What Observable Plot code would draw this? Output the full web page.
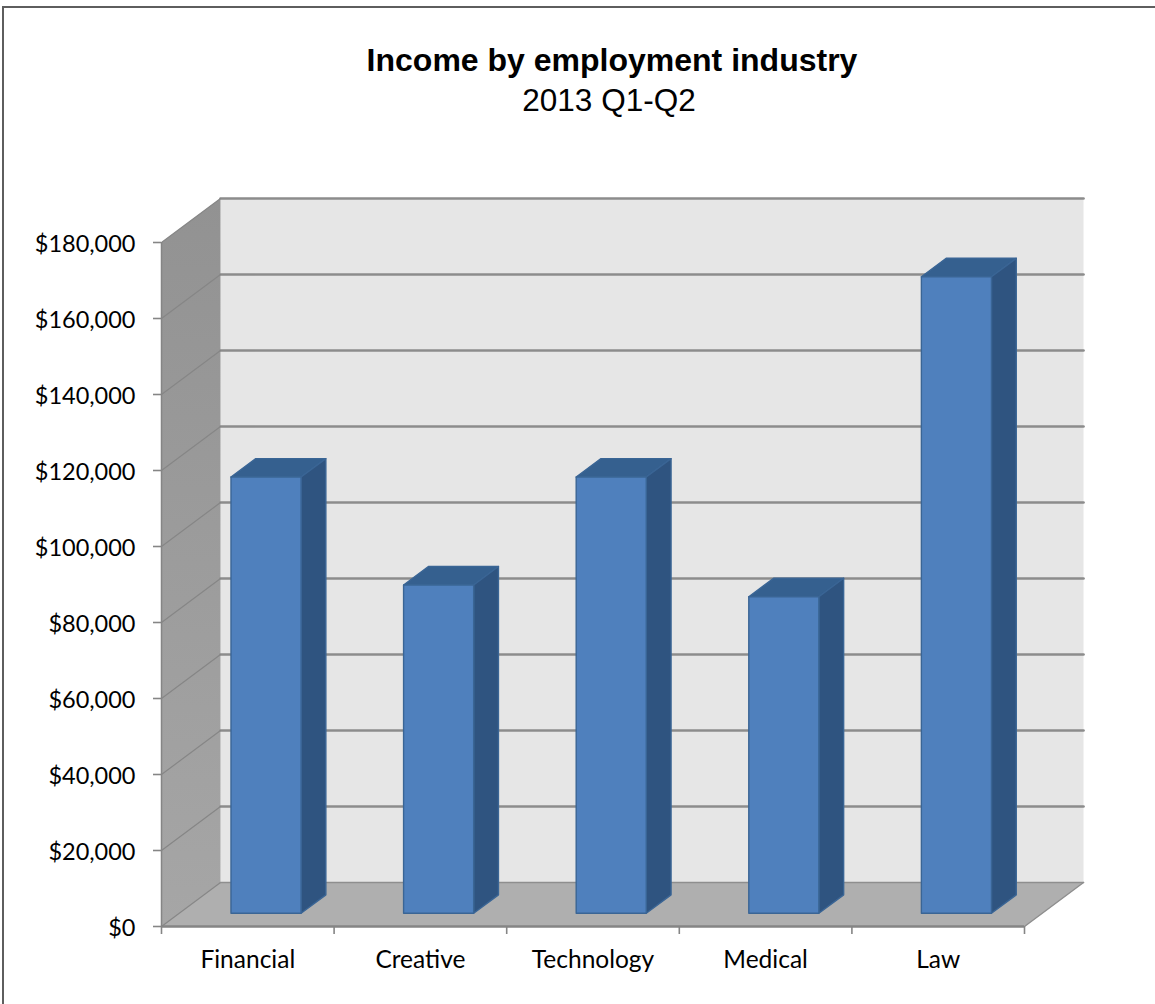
<!DOCTYPE html>
<html>
<head>
<meta charset="utf-8">
<script src="https://cdn.jsdelivr.net/npm/d3@7"></script>
<script src="https://cdn.jsdelivr.net/npm/@observablehq/plot@0.6"></script>
<style>
  html, body { margin: 0; padding: 0; background: #fff; }
  #root { position: relative; width: 1155px; height: 1004px; overflow: hidden; }
  #frame { position: absolute; left: 2px; top: 6px; width: 1153px; height: 998px; box-sizing: border-box;
           border-top: 2px solid #5e5e5e; border-left: 2px solid #5e5e5e; }
  #head { position: absolute; left: 0; top: 0; width: 1224px; height: 170px; text-align: center;
          font-family: "Liberation Sans", Arial, sans-serif; color: #000; }
  #head .t { position: absolute; left: 0; width: 100%; top: 42px; font-size: 32px; font-weight: 700; line-height: 36px; }
  #head .s { position: absolute; left: -3px; width: 100%; top: 82px; font-size: 31.5px; line-height: 36px; }
  #chart { position: absolute; left: 0; top: 170px; }
  #chart svg { display: block; }
</style>
</head>
<body>
<div id="root">
  <div id="frame"></div>
  <div id="head">
    <div class="t">Income by employment industry</div>
    <div class="s">2013 Q1-Q2</div>
  </div>
  <div id="chart"></div>
</div>
<script>
// Chart values
const categories = ["Financial", "Creative", "Technology", "Medical", "Law"];
const incomes = [114800, 86400, 114800, 83300, 167500];
const yTicks = [0, 20000, 40000, 60000, 80000, 100000, 120000, 140000, 160000, 180000];

// Oblique projection of the box: one unit of depth shifts right and up, in data units
const depthX = 0.342;
const depthY = 11580;
const project = (slot, value, z) => ({x: slot + z * depthX, y: value + z * depthY});

// Bar footprint inside a category slot
const barLeft = 0.30, barRight = 0.706, zFront = 0.3, zBack = 0.72;
const yMax = yTicks[yTicks.length - 1];
const slots = categories.length;

// Named polygon faces, each a list of projected corners
const poly = (face, fill, corners) => corners.map((c) => ({face, fill, ...c}));

const wallFaces = [
  ...poly("back", "#e6e6e6", [project(0, 0, 1), project(slots, 0, 1), project(slots, yMax, 1), project(0, yMax, 1)]),
  ...poly("side", "url(#sideWall)", [project(0, 0, 0), project(0, 0, 1), project(0, yMax, 1), project(0, yMax, 0)]),
  ...poly("floor", "#afafaf", [project(0, 0, 0), project(slots, 0, 0), project(slots, 0, 1), project(0, 0, 1)])
];

const barFaces = incomes.flatMap((v, i) => {
  const l = i + barLeft, r = i + barRight;
  return [
    ...poly(`top${i}`, "#35608f", [project(l, v, zFront), project(r, v, zFront), project(r, v, zBack), project(l, v, zBack)]),
    ...poly(`side${i}`, "#2f5480", [project(r, 0, zFront), project(r, 0, zBack), project(r, v, zBack), project(r, v, zFront)]),
    ...poly(`front${i}`, "#4f80bd", [project(l, 0, zFront), project(r, 0, zFront), project(r, v, zFront), project(l, v, zFront)])
  ];
});

// Gridlines run along the side wall and across the back wall
const gridBack = yTicks.slice(1).flatMap((t) => [
  {tick: t, ...project(0, t, 1)}, {tick: t, ...project(slots, t, 1)}
]);
const gridSide = yTicks.flatMap((t) => [
  {tick: t, ...project(0, t, 0)}, {tick: t, ...project(0, t, 1)}
]);
const floorEdges = [
  ...[project(0, 0, 1), project(slots, 0, 1)].map((c) => ({edge: "rear", ...c})),
  ...[project(slots, 0, 0), project(slots, 0, 1)].map((c) => ({edge: "right", ...c}))
];

// Shading of the side wall, lighter toward the floor
const sideGradient = () => {
  const g = document.createElementNS("http://www.w3.org/2000/svg", "defs");
  g.innerHTML = `<linearGradient id="sideWall" x1="0" y1="0" x2="0" y2="1">
    <stop offset="0" stop-color="#929292"/><stop offset="1" stop-color="#a6a6a6"/></linearGradient>`;
  return g;
};

const labelFont = "Lato, 'Noto Sans', sans-serif";

const chart = Plot.plot({
  width: 1155,
  height: 834,
  marginLeft: 161,
  marginRight: 131,
  marginTop: 72,
  marginBottom: 78,
  style: {background: "transparent", overflow: "visible"},
  x: {domain: [0, slots]},
  y: {domain: [0, yMax]},
  marks: [
    sideGradient,
    Plot.line(wallFaces, {x: "x", y: "y", z: "face", fill: "fill", stroke: null, curve: "linear-closed"}),
    Plot.line(gridBack, {x: "x", y: "y", z: "tick", stroke: "#8c8c8c", strokeWidth: 2.6}),
    Plot.line(gridSide, {x: "x", y: "y", z: "tick", stroke: "#868686", strokeWidth: 1.2}),
    Plot.line(floorEdges, {x: "x", y: "y", z: "edge", stroke: "#8e8e8e", strokeWidth: 1.4}),
    Plot.ruleX([0], {y1: 0, y2: yMax, stroke: "#858585", strokeWidth: 1.5}),
    Plot.ruleY([0], {x1: 0, x2: slots, stroke: "#858585", strokeWidth: 2.6}),
    Plot.line(barFaces, {x: "x", y: "y", z: "face", fill: "fill", stroke: "#3a6595", strokeWidth: 1.4, curve: "linear-closed"}),
    // Tick marks and tick labels are separate so the labels can sit a little lower
    Plot.axisY({
      ticks: yTicks, tickSize: 8, tickFormat: () => "", label: null,
      stroke: "#858585", strokeWidth: 1.6
    }),
    Plot.axisY({
      ticks: yTicks, tickSize: 0, tickPadding: 26, dy: 2,
      tickFormat: d3.format("$,"), label: null,
      fontSize: 23.5, fontFamily: labelFont, fill: "#000", textStroke: "none"
    }),
    Plot.axisX({
      ticks: d3.range(slots + 1), tickSize: 8, tickFormat: () => "", label: null,
      stroke: "#858585", strokeWidth: 1.6
    }),
    Plot.text(categories, {
      x: (d, i) => i + 0.5, y: 0, text: (d) => d, dy: 34,
      fontSize: 24.5, fontFamily: labelFont, fill: "#000"
    })
  ]
});
document.getElementById("chart").appendChild(chart);
</script>
</body>
</html>
